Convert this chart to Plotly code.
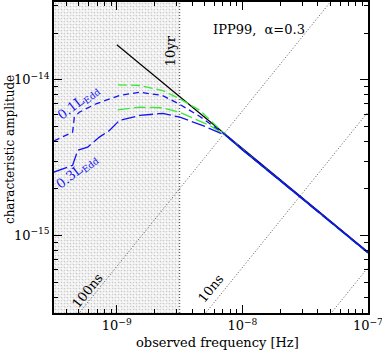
import plotly.graph_objects as go

# 10 yr observation limit (shaded region to the left)
f_10yr = 3.17e-9

# black power-law reference line
f_black = [1e-9, 1e-7]
h_black = [1.68e-14, 7.8e-16]

# 0.1 L_Edd curves (blue short dashes)
f_b01 = [3.16e-10, 4.45e-10, 4.59e-10, 5.03e-10, 6.84e-10, 1.05e-9, 1.52e-9,
         2.32e-9, 3.18e-9, 4.59e-9, 7.41e-9, 1e-8, 3e-8, 1e-7]
h_b01 = [4.04e-15, 4.61e-15, 5.75e-15, 6.19e-15, 7.01e-15, 7.92e-15, 8.32e-15,
         7.92e-15, 6.94e-15, 5.81e-15, 4.40e-15, 3.58e-15, 1.73e-15, 7.75e-16]

# 0.3 L_Edd curves (blue long dashes)
f_b03 = [3.16e-10, 4.45e-10, 4.89e-10, 5.86e-10, 7.27e-10, 8.74e-10, 1.05e-9,
         1.52e-9, 2.32e-9, 3.18e-9, 5.04e-9, 7.41e-9, 1e-8, 3e-8, 1e-7]
h_b03 = [2.55e-15, 2.82e-15, 3.52e-15, 3.69e-15, 4.28e-15, 4.72e-15, 5.48e-15,
         5.90e-15, 6.08e-15, 5.75e-15, 5.01e-15, 4.38e-15, 3.55e-15, 1.72e-15, 7.72e-16]

# green curves
f_g1 = [1.02e-9, 1.52e-9, 2.32e-9, 3.18e-9, 4.59e-9, 7.01e-9, 1e-8, 3e-8, 1e-7]
h_g1 = [9.29e-15, 9.19e-15, 8.53e-15, 7.55e-15, 6.35e-15, 4.60e-15, 3.57e-15, 1.72e-15, 7.7e-16]
f_g2 = [1.02e-9, 1.52e-9, 2.32e-9, 3.18e-9, 5.52e-9, 7.41e-9, 1e-8, 3e-8, 1e-7]
h_g2 = [6.41e-15, 6.67e-15, 6.61e-15, 6.17e-15, 5.08e-15, 4.35e-15, 3.55e-15, 1.71e-15, 7.7e-16]

# timing-residual lines
t_labels = ["100ns", "10ns", "1ns"]
f_tline = [1e-10, 1e-7]
h_tline = [[6.3e-17, 6.3e-14], [6.2e-18, 6.2e-15], [6.2e-19, 6.2e-16]]

xmin, xmax = 10**-9.5, 1e-7
ymin, ymax = 10**-15.5, 10**-13.5

blue = "#1414f0"
green = "#3ae83a"
serif = "DejaVu Serif"

fig = go.Figure()

# shaded region: light hatching + dots
box_x = [xmin, f_10yr, f_10yr, xmin, xmin]
box_y = [ymin, ymin, ymax, ymax, ymin]
fig.add_trace(go.Scatter(x=box_x, y=box_y, fill="toself", mode="none",
                         fillcolor="rgba(0,0,0,0)",
                         fillpattern=dict(shape="\\", fgcolor="#e0e0e0", bgcolor="#fafafa",
                                          size=4, solidity=0.3),
                         hoverinfo="skip", showlegend=False))
fig.add_trace(go.Scatter(x=box_x, y=box_y, fill="toself", mode="none",
                         fillcolor="rgba(0,0,0,0)",
                         fillpattern=dict(shape=".", fgcolor="#a0a0a0", bgcolor="rgba(0,0,0,0)",
                                          size=3, solidity=0.25),
                         hoverinfo="skip", showlegend=False))

for h in h_tline:
    fig.add_trace(go.Scatter(x=f_tline, y=h, mode="lines",
                             line=dict(color="#555", width=1, dash="1px,2px"),
                             showlegend=False))

fig.add_trace(go.Scatter(x=[f_10yr, f_10yr], y=[ymin, ymax], mode="lines",
                         line=dict(color="#444", width=1, dash="1px,2px"), showlegend=False))

fig.add_trace(go.Scatter(x=f_black, y=h_black, mode="lines",
                         line=dict(color="black", width=1.2), showlegend=False))

fig.add_trace(go.Scatter(x=f_g1, y=h_g1, mode="lines",
                         line=dict(color=green, width=1.3, dash="9px,4px"), showlegend=False))
fig.add_trace(go.Scatter(x=f_g2, y=h_g2, mode="lines",
                         line=dict(color=green, width=1.3, dash="12px,4px"), showlegend=False))
fig.add_trace(go.Scatter(x=f_b01, y=h_b01, mode="lines",
                         line=dict(color=blue, width=1.3, dash="6px,4px"), showlegend=False))
fig.add_trace(go.Scatter(x=f_b03, y=h_b03, mode="lines",
                         line=dict(color=blue, width=1.3, dash="14px,4px"), showlegend=False))
# merged part: curves overlap into a solid line
fig.add_trace(go.Scatter(x=f_b03[-4:], y=h_b03[-4:], mode="lines",
                         line=dict(color=blue, width=1.5), showlegend=False))

minor_x = [m * 10**e for e in (-10, -9, -8) for m in range(2, 10)]
minor_y = [m * 10**e for e in (-16, -15, -14) for m in range(2, 10)]

axis_common = dict(type="log", showline=True, linecolor="black", linewidth=1.5,
                   mirror="allticks", ticks="inside", ticklen=8, tickwidth=1,
                   tickcolor="black", showgrid=False, zeroline=False, automargin=False,
                   ticklabeloverflow="allow",
                   tickfont=dict(family=serif, size=13, color="black"))

fig.update_xaxes(**axis_common, range=[-9.5, -6.9995],
                 tickmode="array", tickvals=[1e-9, 1e-8, 1e-7],
                 ticktext=["10<sup>−9</sup>", "10<sup>−8</sup>", "10<sup>−7</sup>"],
                 minor=dict(tickmode="array", tickvals=minor_x, ticks="inside",
                            ticklen=4, tickcolor="black", showgrid=False))
fig.update_yaxes(**axis_common, range=[-15.5, -13.4995],
                 tickmode="array", tickvals=[1e-15, 1e-14],
                 ticktext=["10<sup>−15</sup>", "10<sup>−14</sup>"],
                 minor=dict(tickmode="array", tickvals=minor_y, ticks="inside",
                            ticklen=4, tickcolor="black", showgrid=False))

# axis titles
fig.add_annotation(x=0.521, y=-0.096, xref="paper", yref="paper", showarrow=False,
                   xanchor="center", yanchor="middle",
                   text="observed frequency [Hz]",
                   font=dict(family=serif, size=13, color="black"))
fig.add_annotation(x=-0.14, y=0.524, xref="paper", yref="paper", showarrow=False,
                   xanchor="center", yanchor="middle",
                   text="characteristic amplitude", textangle=-90,
                   font=dict(family=serif, size=12, color="black"))

ann = [
    dict(x=-7.866, y=-13.679, text="IPP99,  α=0.3", textangle=0, color="black"),
    dict(x=-8.577, y=-13.81, text="10yr", textangle=-90, color="black"),
    dict(x=-9.234, y=-15.353, text="100ns", textangle=-51, color="black"),
    dict(x=-8.252, y=-15.342, text="10ns", textangle=-51, color="black"),
    dict(x=-9.298, y=-14.149, text="0.1L<sub>Edd</sub>", textangle=-38, color=blue),
    dict(x=-9.314, y=-14.589, text="0.3L<sub>Edd</sub>", textangle=-38, color=blue),
]
for a in ann:
    fig.add_annotation(x=a["x"], y=a["y"], xref="x", yref="y", text=a["text"],
                       textangle=a["textangle"], showarrow=False,
                       font=dict(family=serif, size=13, color=a["color"]))

fig.update_layout(width=382, height=355, plot_bgcolor="white", paper_bgcolor="white",
                  margin=dict(l=54, r=14, t=2, b=42))

fig.write_html("out.html", config={"displayModeBar": False},
               post_script="document.body.style.margin='0';")
